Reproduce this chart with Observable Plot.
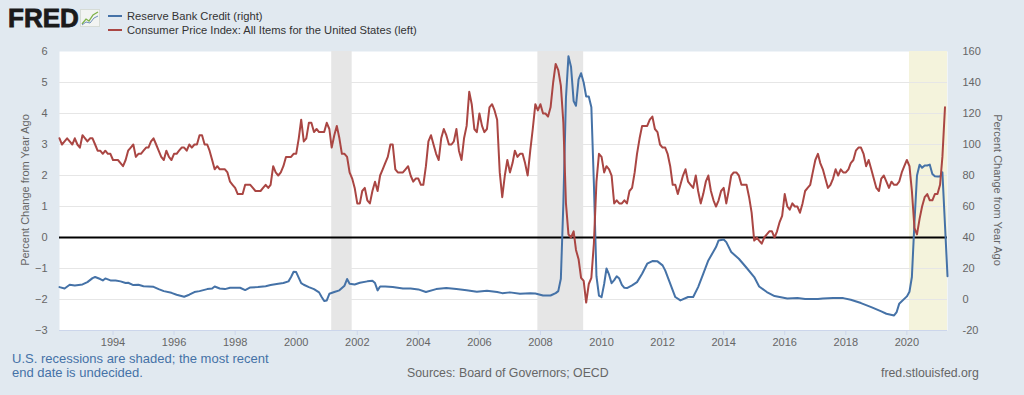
<!DOCTYPE html>
<html>
<head>
<meta charset="utf-8">
<script src="https://cdn.jsdelivr.net/npm/d3@7"></script>
<script src="https://cdn.jsdelivr.net/npm/@observablehq/plot@0.6"></script>
<style>
  body { margin: 0; background: #e1e9f0; font-family: "Liberation Sans", Arial, sans-serif; }
  #wrap { position: relative; width: 1024px; height: 395px; overflow: hidden; background: #e1e9f0; }
  #chart { position: absolute; left: 0; top: 44px; }
  .abs { position: absolute; white-space: nowrap; }
  #logo { left: 8px; top: 6px; font-size: 25px; line-height: 25px; font-weight: bold; color: #1a1a1a; letter-spacing: 0px;
          -webkit-text-stroke: 0.8px #1a1a1a; transform: scaleX(1.04); transform-origin: left center; }
  #logoicon { left: 80px; top: 9px; }
  #legend { left: 108px; top: 9px; font-size: 11.2px; line-height: 14px; color: #333; }
  .sw { display: inline-block; width: 14px; height: 2px; vertical-align: middle; margin-right: 5px; position: relative; top: -1px; }
  .ytitle { font-size: 11px; color: #666; }
  #footL { left: 12px; top: 352px; font-size: 13px; line-height: 14px; color: #4572a7; }
  #footM { left: 407px; top: 366px; font-size: 12.3px; line-height: 14px; color: #666; }
  #footR { left: 881px; top: 366px; font-size: 12.3px; line-height: 14px; color: #666; }
</style>
</head>
<body>
<div id="wrap">
  <div id="logo" class="abs">FRED</div>
  <svg id="logoicon" class="abs" width="20" height="18" viewBox="0 0 20 18">
    <rect x="0.5" y="0.5" width="19" height="17" fill="#f2f4f2" stroke="#d6dcd6"/>
    <polyline points="2,15 6,10 9,12 13,6 18,3" fill="none" stroke="#7fb24a" stroke-width="1.3"/>
    <polyline points="2,16 6,13 10,14 14,9 18,7" fill="none" stroke="#6d8fb8" stroke-width="1"/>
  </svg>
  <div id="legend" class="abs">
    <div><span class="sw" style="background:#4572a7"></span>Reserve Bank Credit (right)</div>
    <div><span class="sw" style="background:#aa4643"></span>Consumer Price Index: All Items for the United States (left)</div>
  </div>
  <div id="chart"></div>
  <div class="abs ytitle" style="left:25px;top:190px;transform:translate(-50%,-50%) rotate(-90deg);">Percent Change from Year Ago</div>
  <div class="abs ytitle" style="left:998px;top:190px;transform:translate(-50%,-50%) rotate(90deg);">Percent Change from Year Ago</div>
  <div id="footL" class="abs">U.S. recessions are shaded; the most recent<br>end date is undecided.</div>
  <div id="footM" class="abs">Sources: Board of Governors; OECD</div>
  <div id="footR" class="abs">fred.stlouisfed.org</div>
</div>
<script>
// ---------- DATA ----------
// CPI, all items, US: percent change from year ago (left axis), monthly from 1992-04
const cpiStart = "1992-04";
const cpiValues = [
  3.2, 3.0, 3.1, 3.2, 3.1, 3.0, 3.2, 3.0, 2.9,                 // 1992 Apr-Dec
  3.3, 3.2, 3.1, 3.2, 3.2, 3.0, 2.8, 2.8, 2.7, 2.8, 2.7, 2.7,  // 1993
  2.5, 2.5, 2.5, 2.4, 2.3, 2.5, 2.8, 2.9, 3.0, 2.6, 2.7, 2.7,  // 1994
  2.8, 2.9, 2.9, 3.1, 3.2, 3.0, 2.8, 2.6, 2.5, 2.8, 2.6, 2.5,  // 1995
  2.7, 2.7, 2.8, 2.9, 2.9, 2.8, 3.0, 2.9, 3.0, 3.0, 3.3, 3.3,  // 1996
  3.0, 3.0, 2.8, 2.5, 2.2, 2.3, 2.2, 2.2, 2.2, 2.1, 1.8, 1.7,  // 1997
  1.6, 1.4, 1.4, 1.4, 1.7, 1.7, 1.7, 1.6, 1.5, 1.5, 1.5, 1.6,  // 1998
  1.7, 1.6, 1.7, 2.3, 2.1, 2.0, 2.1, 2.3, 2.6, 2.6, 2.6, 2.7,  // 1999
  2.7, 3.2, 3.8, 3.1, 3.2, 3.7, 3.7, 3.4, 3.5, 3.4, 3.4, 3.4,  // 2000
  3.7, 3.5, 2.9, 3.3, 3.6, 3.2, 2.7, 2.7, 2.6, 2.1, 1.9, 1.6,  // 2001
  1.1, 1.1, 1.5, 1.6, 1.2, 1.1, 1.5, 1.8, 1.5, 2.0, 2.2, 2.4,  // 2002
  2.6, 3.0, 3.0, 2.2, 2.1, 2.1, 2.1, 2.2, 2.3, 2.0, 1.8, 1.9,  // 2003
  1.9, 1.7, 1.7, 2.3, 3.1, 3.3, 3.0, 2.7, 2.5, 3.2, 3.5, 3.3,  // 2004
  3.0, 3.0, 3.1, 3.5, 2.8, 2.5, 3.2, 3.6, 4.7, 4.3, 3.5, 3.4,  // 2005
  4.0, 3.6, 3.4, 3.5, 4.2, 4.3, 4.1, 3.8, 2.1, 1.3, 2.0, 2.5,  // 2006
  2.1, 2.4, 2.8, 2.6, 2.7, 2.7, 2.4, 2.0, 2.8, 3.5, 4.3, 4.1,  // 2007
  4.3, 4.0, 4.0, 3.9, 4.2, 5.0, 5.6, 5.4, 4.9, 3.7, 1.1, 0.1,  // 2008
  0.0, 0.2, -0.4, -0.7, -1.3, -1.4, -2.1, -1.5, -1.3, -0.2, 1.8, 2.7, // 2009
  2.6, 2.1, 2.3, 2.2, 2.0, 1.1, 1.2, 1.1, 1.1, 1.2, 1.1, 1.5,  // 2010
  1.6, 2.1, 2.7, 3.2, 3.6, 3.6, 3.6, 3.8, 3.9, 3.5, 3.4, 3.0,  // 2011
  2.9, 2.9, 2.7, 2.3, 1.7, 1.7, 1.4, 1.7, 2.0, 2.2, 1.8, 1.7,  // 2012
  1.6, 2.0, 1.5, 1.1, 1.4, 1.8, 2.0, 1.5, 1.2, 1.0, 1.2, 1.5,  // 2013
  1.6, 1.1, 1.5, 2.0, 2.1, 2.1, 2.0, 1.7, 1.7, 1.7, 1.3, 0.8,  // 2014
  -0.1, 0.0, -0.1, -0.2, 0.0, 0.1, 0.2, 0.2, 0.0, 0.2, 0.5, 0.7, // 2015
  1.4, 1.0, 0.9, 1.1, 1.0, 1.0, 0.8, 1.1, 1.5, 1.6, 1.7, 2.1,  // 2016
  2.5, 2.7, 2.4, 2.2, 1.9, 1.6, 1.7, 1.9, 2.2, 2.0, 2.2, 2.1,  // 2017
  2.1, 2.2, 2.4, 2.5, 2.8, 2.9, 2.9, 2.7, 2.3, 2.5, 2.2, 1.9,  // 2018
  1.6, 1.5, 1.9, 2.0, 1.8, 1.6, 1.8, 1.7, 1.7, 1.8, 2.1, 2.3,  // 2019
  2.5, 2.3, 1.5, 0.3, 0.1, 0.6, 1.0, 1.3, 1.4, 1.2, 1.2, 1.4,  // 2020
  1.4, 1.7, 2.6, 4.2                                           // 2021 Jan-Apr
];

// Reserve Bank Credit: percent change from year ago (right axis)
const rbcDates = [
  "1992-04","1992-06","1992-08","1992-10","1993-01","1993-03","1993-05","1993-06","1993-08","1993-09",
  "1993-10","1993-12","1994-02","1994-04","1994-06","1994-07","1994-09","1994-11","1995-01","1995-05",
  "1995-07","1995-09","1995-12","1996-02","1996-05","1996-07","1996-09","1996-11","1997-02","1997-04",
  "1997-05","1997-07","1997-09","1997-11","1998-03","1998-05","1998-07","1998-10","1999-01","1999-03",
  "1999-06","1999-08","1999-10","1999-11","1999-12","2000-01","2000-03","2000-04","2000-06","2000-08",
  "2000-10","2000-11","2000-12","2001-01","2001-02","2001-04","2001-06","2001-08","2001-09","2001-10",
  "2001-12","2002-02","2002-05","2002-07","2002-08","2002-09","2002-10","2002-12","2003-03","2003-07",
  "2003-10","2004-01","2004-04","2004-08","2004-12","2005-04","2005-08","2005-12","2006-04","2006-08",
  "2006-10","2007-01","2007-05","2007-09","2007-11","2008-02","2008-05","2008-07","2008-08","2008-09",
  "2008-10","2008-11","2008-12","2009-01","2009-02","2009-03","2009-04","2009-05","2009-06","2009-07",
  "2009-08","2009-09","2009-10","2009-11","2009-12","2010-01","2010-02","2010-03","2010-04","2010-05",
  "2010-06","2010-07","2010-08","2010-09","2010-10","2010-11","2011-01","2011-03","2011-05","2011-07",
  "2011-09","2011-11","2012-01","2012-02","2012-04","2012-06","2012-08","2012-11","2013-01","2013-03",
  "2013-05","2013-07","2013-10","2013-11","2014-01","2014-02","2014-04","2014-07","2014-10","2015-01",
  "2015-03","2015-06","2015-09","2016-02","2016-06","2016-09","2017-02","2017-04","2017-08","2017-12",
  "2018-03","2018-07","2018-11","2019-03","2019-05","2019-08","2019-09","2019-10","2020-01","2020-02",
  "2020-03","2020-04","2020-05","2020-06","2020-07","2020-08","2020-09","2020-10","2020-11","2020-12",
  "2021-01","2021-02","2021-03","2021-04","2021-05"
];
const rbcValues = [
  8.0, 7.1, 9.5, 9.1, 9.7, 11.2, 13.8, 14.5, 13.2, 12.3,
  13.6, 12.3, 12.3, 11.7, 10.6, 10.8, 9.3, 9.5, 8.6, 8.2,
  6.7, 5.4, 4.3, 3.1, 1.8, 3.1, 4.8, 5.4, 6.7, 7.1,
  8.4, 7.1, 6.7, 7.6, 7.6, 6.1, 7.8, 8.0, 8.6, 9.3,
  10.1, 10.6, 11.7, 14.5, 17.9, 17.7, 10.6, 9.5, 8.0, 6.7,
  4.6, 1.6, -1.0, -0.6, 3.7, 4.8, 5.9, 8.9, 13.2, 10.2,
  9.7, 10.8, 11.7, 12.1, 10.6, 5.9, 8.4, 8.4, 8.0, 7.1,
  7.1, 6.5, 4.8, 6.7, 7.4, 6.7, 5.9, 5.0, 5.6, 4.8,
  4.1, 4.6, 3.7, 4.1, 3.9, 2.6, 2.6, 4.1, 5.4, 13.4,
  62, 130, 157, 150, 128, 125, 142, 146, 140, 131,
  131, 124, 75, 15, 2.5, 1.5, 10, 20, 16, 10.5,
  12.5, 15, 13.5, 9.5, 7.5, 7.4, 9.1, 11.2, 16.6, 23.1,
  24.8, 24.6, 22.0, 18.8, 10.2, 1.6, -0.6, 1.6, 1.6, 8.0,
  16.6, 25.2, 33.8, 38.1, 38.7, 37.0, 30.6, 26.3, 20.5, 14.5,
  8.4, 4.8, 2.2, 0.7, 0.9, 0.3, 0.3, 0.7, 0.9, 0.9,
  -0.2, -2.3, -4.9, -7.7, -9.2, -10.3, -8.1, -2.8, 2.0, 5.0,
  14.5, 50, 80, 87, 85, 86.5, 86.5, 87, 81, 79.5,
  79.4, 79.4, 82, 48, 15
];

// Recessions (last one: end date undecided)
const recStart = ["2001-03", "2007-12", "2020-02"];
const recEnd = ["2001-11", "2009-06", "2021-05"];
const recUndecided = [false, false, true];

// Axes
const leftTicks = [-3, -2, -1, 0, 1, 2, 3, 4, 5, 6];
const rightTicks = [-20, 0, 20, 40, 60, 80, 100, 120, 140, 160];
const xTickYears = [1994, 1996, 1998, 2000, 2002, 2004, 2006, 2008, 2010, 2012, 2014, 2016, 2018, 2020];
const xDomain = ["1992-04", "2021-05"];

// ---------- BUILD ----------
const parse = d3.utcParse("%Y-%m");
const cpi = cpiValues.map((v, i) => ({date: d3.utcMonth.offset(parse(cpiStart), i), value: v}));
const rbc = rbcDates.map((d, i) => ({date: parse(d), value: rbcValues[i]}));
const recessions = recStart.map((s, i) => ({start: parse(s), end: parse(recEnd[i]), undecided: recUndecided[i]}));
const toLeft = r => (r - 40) / 20;      // right-axis value -> left-axis position
const yMin = leftTicks[0], yMax = leftTicks[leftTicks.length - 1];
const gridTicks = leftTicks.filter(t => t !== yMin && t !== yMax && t !== 0);
const xTicks = xTickYears.map(y => new Date(Date.UTC(y, 0, 1)));

const chart = Plot.plot({
  width: 1024,
  height: 305,
  marginTop: 7,
  marginBottom: 19,
  marginLeft: 59,
  marginRight: 77,
  style: {background: "transparent", fontFamily: "'Liberation Sans', Arial, sans-serif", fontSize: "11px", overflow: "visible"},
  x: {type: "utc", domain: xDomain.map(parse)},
  y: {domain: [yMin, yMax]},
  marks: [
    Plot.frame({fill: "white", stroke: null}),
    Plot.rect(recessions.filter(d => !d.undecided), {x1: "start", x2: "end", y1: yMin, y2: yMax, fill: "#e6e6e6"}),
    Plot.rect(recessions.filter(d => d.undecided), {x1: "start", x2: "end", y1: yMin, y2: yMax, fill: "#f4f3dc"}),
    Plot.ruleY(gridTicks, {stroke: "#e6e6e6", strokeWidth: 1}),
    Plot.ruleY([yMin], {stroke: "#ccd6eb", strokeWidth: 1}),
    Plot.ruleY([0], {stroke: "#000", strokeWidth: 2}),
    Plot.line(rbc, {x: "date", y: d => toLeft(d.value), stroke: "#4572a7", strokeWidth: 2}),
    Plot.line(cpi, {x: "date", y: "value", stroke: "#aa4643", strokeWidth: 2}),
    Plot.axisY(leftTicks, {anchor: "left", tickSize: 0, tickPadding: 12, label: null, color: "#666"}),
    Plot.axisY(rightTicks.map(toLeft), {anchor: "right", tickSize: 0, tickPadding: 15, label: null, color: "#666",
      tickFormat: v => String(Math.round(v * 20 + 40))}),
    Plot.axisX(xTicks, {anchor: "bottom", tickSize: 5, tickPadding: 3, label: null, color: "#666", stroke: "#ccd6eb",
      tickFormat: d => String(d.getUTCFullYear())})
  ]
});
document.getElementById("chart").appendChild(chart);
</script>
</body>
</html>
